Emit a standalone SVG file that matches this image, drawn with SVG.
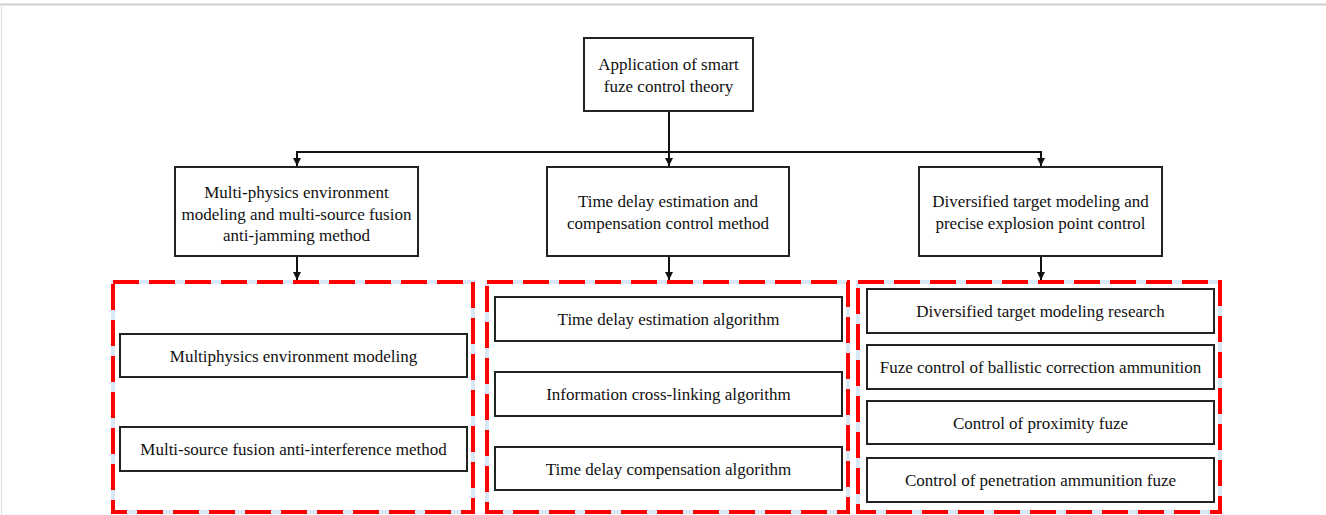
<svg xmlns="http://www.w3.org/2000/svg" width="1326" height="515" viewBox="0 0 1326 515">
<defs>
<style>
.box{fill:#fff;stroke:#222;stroke-width:2}
.t{font-family:"Liberation Serif","Times New Roman",serif;font-size:17px;fill:#111;text-anchor:middle}
.ln{fill:none;stroke:#111;stroke-width:2}
.dashbg{fill:none;stroke:#d8e8f4;stroke-width:4}
.dash{fill:none;stroke:#ff0000;stroke-width:4;stroke-dasharray:26 10}
</style>
<marker id="ah" viewBox="0 0 10 10" refX="10" refY="5" markerWidth="4" markerHeight="4" orient="auto" markerUnits="strokeWidth">
<path d="M0,0 L10,5 L0,10 Z" fill="#111"/>
</marker>
</defs>
<rect width="1326" height="515" fill="#fff"/>
<line x1="0" y1="4.5" x2="1326" y2="4.5" stroke="#cfcfcf" stroke-width="2"/>
<line x1="1.5" y1="4" x2="1.5" y2="515" stroke="#dcdcdc" stroke-width="1"/>

<g id="connectors">
<line class="ln" x1="669" y1="111" x2="669" y2="166" marker-end="url(#ah)"/>
<polyline class="ln" points="297,152 1041,152 1041,166" marker-end="url(#ah)"/>
<line class="ln" x1="297" y1="151" x2="297" y2="166" marker-end="url(#ah)"/>
<line class="ln" x1="297" y1="256" x2="297" y2="280" marker-end="url(#ah)"/>
<line class="ln" x1="669" y1="256" x2="669" y2="280" marker-end="url(#ah)"/>
<line class="ln" x1="1041" y1="256" x2="1041" y2="280" marker-end="url(#ah)"/>
</g>

<g id="root">
<rect class="box" x="584" y="38" width="169" height="73"/>
<text class="t" x="668.5" y="70">Application of smart</text>
<text class="t" x="668.5" y="91.5">fuze control theory</text>
</g>

<g id="branch1">
<rect class="box" x="175" y="167" width="243" height="89"/>
<text class="t" x="296.5" y="198">Multi-physics environment</text>
<text class="t" x="296.5" y="219.5">modeling and multi-source fusion</text>
<text class="t" x="296.5" y="241">anti-jamming method</text>
</g>

<g id="branch2">
<rect class="box" x="547" y="167" width="242" height="89"/>
<text class="t" x="668" y="207">Time delay estimation and</text>
<text class="t" x="668" y="228.5">compensation control method</text>
</g>

<g id="branch3">
<rect class="box" x="919" y="167" width="243" height="89"/>
<text class="t" x="1040.5" y="207">Diversified target modeling and</text>
<text class="t" x="1040.5" y="228.5">precise explosion point control</text>
</g>

<g id="group1">
<rect class="dashbg" x="113" y="282" width="360" height="230"/>
<rect class="dash" x="113" y="282" width="360" height="230"/>
</g>
<g id="group2">
<rect class="dashbg" x="487" y="282" width="361" height="230"/>
<rect class="dash" x="487" y="282" width="361" height="230"/>
</g>
<g id="group3">
<rect class="dashbg" x="858" y="282" width="362" height="230"/>
<rect class="dash" x="858" y="282" width="362" height="230"/>
</g>

<g id="g1a">
<rect class="box" x="120" y="334" width="347" height="43"/>
<text class="t" x="293.5" y="361.5">Multiphysics environment modeling</text>
</g>
<g id="g1b">
<rect class="box" x="120" y="427" width="347" height="44"/>
<text class="t" x="293.5" y="455">Multi-source fusion anti-interference method</text>
</g>

<g id="g2a">
<rect class="box" x="495" y="297" width="347" height="44"/>
<text class="t" x="668.5" y="325">Time delay estimation algorithm</text>
</g>
<g id="g2b">
<rect class="box" x="495" y="372" width="347" height="44"/>
<text class="t" x="668.5" y="400">Information cross-linking algorithm</text>
</g>
<g id="g2c">
<rect class="box" x="495" y="447" width="347" height="43"/>
<text class="t" x="668.5" y="474.5">Time delay compensation algorithm</text>
</g>

<g id="g3a">
<rect class="box" x="867" y="289" width="347" height="44"/>
<text class="t" x="1040.5" y="317">Diversified target modeling research</text>
</g>
<g id="g3b">
<rect class="box" x="867" y="345" width="347" height="44"/>
<text class="t" x="1040.5" y="373">Fuze control of ballistic correction ammunition</text>
</g>
<g id="g3c">
<rect class="box" x="867" y="401" width="347" height="43"/>
<text class="t" x="1040.5" y="428.5">Control of proximity fuze</text>
</g>
<g id="g3d">
<rect class="box" x="867" y="458" width="347" height="44"/>
<text class="t" x="1040.5" y="486">Control of penetration ammunition fuze</text>
</g>
</svg>
